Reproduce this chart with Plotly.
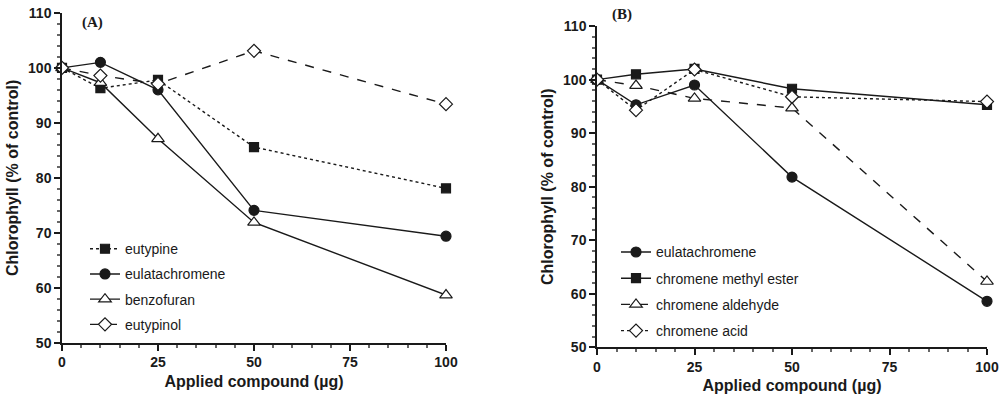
import plotly.graph_objects as go

# x doses (µg) shared by both panels
dose = [0, 10, 25, 50, 100]

# panel A
eutypine_a = [100, 96.3, 97.8, 85.6, 78.1]
eulatachromene_a = [100, 101.0, 96.0, 74.1, 69.4]
benzofuran_a = [100, 97.3, 87.1, 71.9, 58.7]
eutypinol_a = [100, 98.6, 97.1, 103.1, 93.4]

# panel B
eulatachromene_b = [100, 95.3, 99.0, 81.8, 58.6]
methyl_ester_b = [100, 101.0, 102.0, 98.3, 95.3]
aldehyde_b = [100, 98.9, 96.5, 94.7, 62.3]
acid_b = [100, 94.3, 101.9, 96.8, 95.9]

INK = "#1a1a1a"

fig = go.Figure()


def add(name, y, xa, ya, leg, dash, symbol, size, fill):
    fig.add_trace(go.Scatter(
        x=dose, y=y, name=name, xaxis=xa, yaxis=ya, legend=leg,
        legendgroup=name, mode="lines+markers", cliponaxis=False,
        line=dict(color=INK, width=1.4, dash=dash),
        marker=dict(symbol=symbol, size=size, color=fill,
                    line=dict(color=INK, width=1.2)),
    ))


add("eutypine", eutypine_a, "x", "y", "legend", "dot", "square", 9, INK)
add("eulatachromene", eulatachromene_a, "x", "y", "legend", "solid", "circle", 10, INK)
add("benzofuran", benzofuran_a, "x", "y", "legend", "solid", "triangle-up", 11, "white")
add("eutypinol", eutypinol_a, "x", "y", "legend", "dash", "diamond", 10, "white")

add("eulatachromene ", eulatachromene_b, "x2", "y2", "legend2", "solid", "circle", 10, INK)
add("chromene methyl ester", methyl_ester_b, "x2", "y2", "legend2", "solid", "square", 9, INK)
add("chromene aldehyde", aldehyde_b, "x2", "y2", "legend2", "dash", "triangle-up", 11, "white")
add("chromene acid", acid_b, "x2", "y2", "legend2", "dot", "diamond", 10, "white")

tickfont = dict(family="Liberation Sans", size=14, color=INK, weight="bold")
titlefont = dict(family="Liberation Sans", size=16, color=INK, weight="bold")

xcommon = dict(range=[0, 100], tickvals=[0, 25, 50, 75, 100], ticks="outside",
               ticklen=6, tickwidth=1.5, tickcolor=INK, showline=True,
               linecolor=INK, linewidth=1.5, showgrid=False, zeroline=False,
               tickfont=tickfont, fixedrange=True, automargin=False,
               minor=dict(dtick=5, ticks="outside", ticklen=3, tickcolor="#666"))
ycommon = dict(range=[50, 110], dtick=10, ticks="outside", ticklen=6,
               tickwidth=1.5, tickcolor=INK, showline=True, linecolor=INK,
               linewidth=1.5, showgrid=False, zeroline=False,
               tickfont=tickfont, fixedrange=True, automargin=False,
               minor=dict(dtick=2, ticks="outside", ticklen=3, tickcolor="#666"))

legfont = dict(family="Liberation Sans", size=14, color=INK)

fig.update_layout(
    width=1000, height=402,
    margin=dict(l=0, r=0, t=0, b=0),
    paper_bgcolor="white", plot_bgcolor="white",
    xaxis=dict(domain=[0.062, 0.446], anchor="y",
               title=dict(text="Applied compound (µg)", font=titlefont, standoff=6),
               **xcommon),
    yaxis=dict(domain=[0.147, 0.968], anchor="x",
               title=dict(text="Chlorophyll (% of control)", font=titlefont, standoff=5),
               **ycommon),
    xaxis2=dict(domain=[0.597, 0.987], anchor="y2",
                title=dict(text="Applied compound (µg)", font=titlefont, standoff=6),
                **xcommon),
    yaxis2=dict(domain=[0.136, 0.935], anchor="x2",
                title=dict(text="Chlorophyll (% of control)", font=titlefont, standoff=5),
                **ycommon),
    legend=dict(x=0.085, y=0.42, xanchor="left", yanchor="top",
                bgcolor="rgba(0,0,0,0)", font=legfont, tracegroupgap=4,
                itemwidth=30),
    legend2=dict(x=0.616, y=0.412, xanchor="left", yanchor="top",
                 bgcolor="rgba(0,0,0,0)", font=legfont, tracegroupgap=5,
                 itemwidth=30),
    annotations=[
        dict(text="<b>(A)</b>", xref="paper", yref="paper", x=0.080, y=0.945,
             xanchor="left", yanchor="middle", showarrow=False,
             font=dict(family="Liberation Serif", size=15, color=INK)),
        dict(text="<b>(B)</b>", xref="paper", yref="paper", x=0.610, y=0.965,
             xanchor="left", yanchor="middle", showarrow=False,
             font=dict(family="Liberation Serif", size=15, color=INK)),
    ],
)

# the browser's default 8px body margin would push the figure off the window
fig.write_html("out.html", config={"displayModeBar": False},
               post_script="document.body.style.margin='0';")
